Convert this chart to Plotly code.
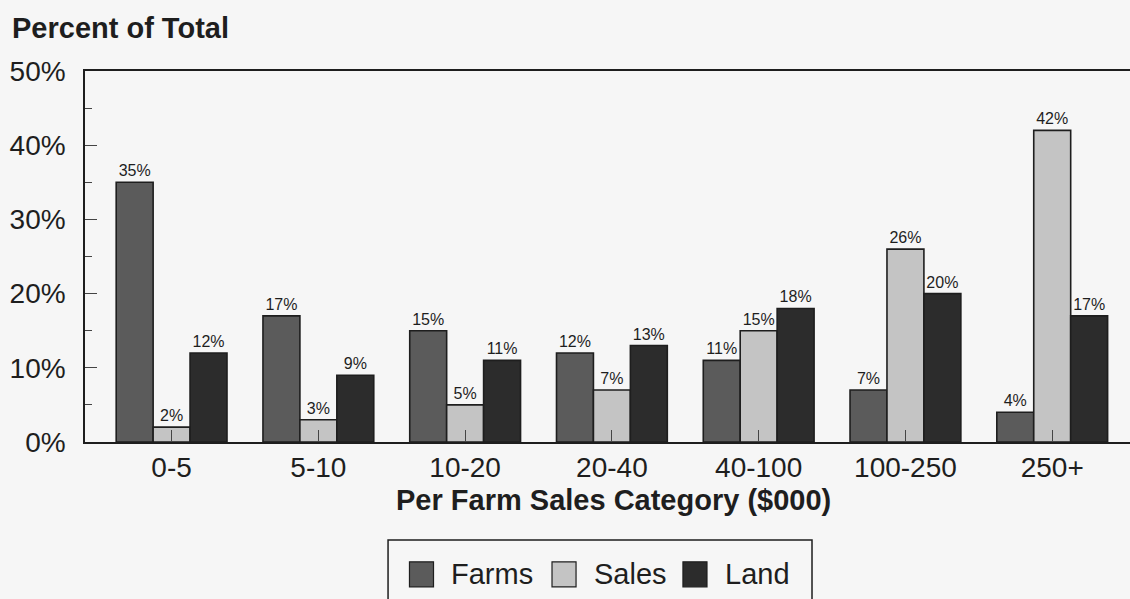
import plotly.graph_objects as go

# Per-farm sales classes and each class's share of farms, sales and land
categories = ["0-5", "5-10", "10-20", "20-40", "40-100", "100-250", "250+"]
farms = [35, 17, 15, 12, 11, 7, 4]
sales = [2, 3, 5, 7, 15, 26, 42]
land = [12, 9, 11, 13, 18, 20, 17]

y_tick_values = [0, 10, 20, 30, 40, 50]
y_tick_labels = ["0%", "10%", "20%", "30%", "40%", "50%"]

series_names = ["Farms", "Sales", "Land"]
series_values = [farms, sales, land]
series_colors = ["#5b5b5b", "#c4c4c4", "#2c2c2c"]

FONT = "Liberation Sans, Arial, Helvetica, sans-serif"
INK = "#1e1e1e"
BG = "#f6f6f6"

fig = go.Figure()
for name, vals, col in zip(series_names, series_values, series_colors):
    fig.add_trace(go.Bar(
        x=categories, y=vals, name=name,
        marker=dict(color=col, line=dict(color=INK, width=1.6)),
        text=[f"{v}%" for v in vals], textposition="outside",
        textfont=dict(family=FONT, size=16, color=INK),
        cliponaxis=False, showlegend=False,
    ))

fig.update_layout(
    width=1130, height=599,
    margin=dict(l=85, r=0, t=71, b=157),
    paper_bgcolor=BG, plot_bgcolor=BG,
    barmode="group", bargap=0.245, bargroupgap=0,
    font=dict(family=FONT, color=INK),
    showlegend=False,
)

fig.update_xaxes(
    range=[-0.59, 6.53], showgrid=False,
    showline=True, linecolor=INK, linewidth=1.5, mirror=True,
    ticks="inside", ticklen=12, tickcolor="#444", tickwidth=1,
    tickfont=dict(family=FONT, size=28, color=INK),
    ticklabelstandoff=0,
)
fig.update_yaxes(
    range=[0, 50], showgrid=False, zeroline=False,
    showline=True, linecolor=INK, linewidth=1.5,
    tickmode="array", tickvals=y_tick_values, ticktext=y_tick_labels,
    ticks="inside", ticklen=12, tickcolor="#444", tickwidth=1,
    minor=dict(dtick=5, ticks="inside", ticklen=7, tickcolor="#444"),
    tickfont=dict(family=FONT, size=28, color=INK),
    ticklabelstandoff=12,
)

# Axis titles
fig.add_annotation(
    text="<b>Percent of Total</b>", xref="paper", yref="paper",
    x=-0.0718, y=1.116, xanchor="left", yanchor="middle", showarrow=False,
    font=dict(family=FONT, size=29, color=INK),
)
fig.add_annotation(
    text="<b>Per Farm Sales Category ($000)</b>", xref="paper", yref="paper",
    x=0.506, y=-0.156, xanchor="center", yanchor="middle", showarrow=False,
    font=dict(family=FONT, size=29, color=INK),
)

# Boxed legend below the chart
fig.add_shape(type="rect", xref="paper", yref="paper",
              x0=0.29, x1=0.6957, y0=-0.48, y1=-0.2642,
              line=dict(color=INK, width=1.5), fillcolor=BG)
legend_x = [0.3105, 0.4469, 0.5722]
for name, col, lx in zip(series_names, series_colors, legend_x):
    fig.add_shape(type="rect", xref="paper", yref="paper",
                  x0=lx, x1=lx + 0.023, y0=-0.3903, y1=-0.3229,
                  line=dict(color=INK, width=1.2), fillcolor=col)
    fig.add_annotation(
        text=name, xref="paper", yref="paper",
        x=lx + 0.038, y=-0.3566, xanchor="left", yanchor="middle",
        showarrow=False, font=dict(family=FONT, size=29, color=INK),
    )

fig.write_html("out.html")
